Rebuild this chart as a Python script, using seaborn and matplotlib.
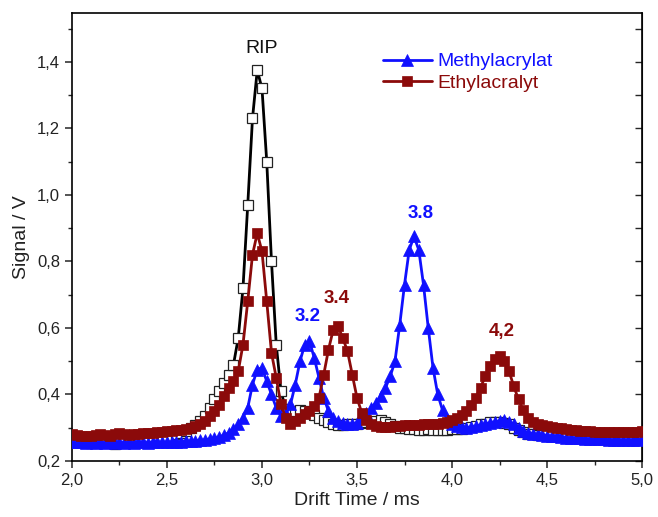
import numpy as np
import pandas as pd
import matplotlib
matplotlib.use('Agg')
import matplotlib.pyplot as plt
import seaborn as sns
from matplotlib.ticker import MultipleLocator, FuncFormatter

# drift time grid, 0.025 ms steps from 2.0 to 5.0 ms
drift_time = np.round(2.0 + 0.025 * np.arange(121), 3)

# RIP (reactant ion peak), black open squares
rip = [
    0.265, 0.260, 0.258, 0.262, 0.255, 0.260, 0.263, 0.258, 0.265, 0.252, 0.260,
    0.262, 0.265, 0.258, 0.266, 0.263, 0.268, 0.262, 0.270, 0.272, 0.273,
    0.276, 0.280, 0.284, 0.290, 0.298, 0.308, 0.320, 0.335, 0.360, 0.385,
    0.410, 0.435, 0.460, 0.490, 0.570, 0.720, 0.970, 1.230, 1.375, 1.320,
    1.100, 0.800, 0.550, 0.410, 0.355, 0.348, 0.350, 0.352, 0.350, 0.345,
    0.338, 0.330, 0.323, 0.316, 0.310, 0.308, 0.308, 0.310, 0.310, 0.312,
    0.315, 0.316, 0.318, 0.320, 0.322, 0.318, 0.312, 0.305, 0.300, 0.298,
    0.296, 0.295, 0.294, 0.293, 0.295, 0.293, 0.292, 0.293, 0.294, 0.295,
    0.296, 0.297, 0.300, 0.302, 0.305, 0.310, 0.312, 0.316, 0.318, 0.318,
    0.315, 0.310, 0.300, 0.292, 0.286, 0.282, 0.280, 0.278, 0.278, 0.277,
    0.276, 0.275, 0.274, 0.273, 0.272, 0.272, 0.271, 0.271, 0.270, 0.270,
    0.270, 0.269, 0.270, 0.268, 0.268, 0.267, 0.266, 0.267, 0.266, 0.268,
]

methylacrylat = [
    0.258, 0.256, 0.257, 0.255, 0.256, 0.254, 0.256, 0.255, 0.257, 0.255, 0.256,
    0.255, 0.256, 0.255, 0.257, 0.256, 0.255, 0.256, 0.257, 0.256, 0.257,
    0.257, 0.258, 0.258, 0.259, 0.260, 0.261, 0.262, 0.264, 0.266, 0.268,
    0.272, 0.278, 0.285, 0.295, 0.310, 0.330, 0.360, 0.430, 0.475, 0.480,
    0.440, 0.400, 0.360, 0.335, 0.340, 0.370, 0.430, 0.500, 0.550, 0.560,
    0.510, 0.450, 0.390, 0.350, 0.330, 0.320, 0.315, 0.312, 0.312, 0.315,
    0.330, 0.345, 0.360, 0.375, 0.395, 0.420, 0.455, 0.500, 0.610, 0.730,
    0.835, 0.875, 0.835, 0.730, 0.600, 0.480, 0.400, 0.353, 0.325, 0.312,
    0.305, 0.302, 0.300, 0.302, 0.305, 0.308, 0.310, 0.315, 0.318, 0.320,
    0.322, 0.318, 0.310, 0.300, 0.290, 0.285, 0.282, 0.280, 0.278, 0.276,
    0.275, 0.274, 0.272, 0.270, 0.270, 0.268, 0.268, 0.267, 0.266, 0.266,
    0.265, 0.265, 0.264, 0.263, 0.263, 0.262, 0.263, 0.262, 0.264, 0.265,
]

ethylacralyt = [
    0.280, 0.278, 0.275, 0.276, 0.274, 0.277, 0.280, 0.278, 0.276, 0.280, 0.283,
    0.280, 0.278, 0.280, 0.282, 0.283, 0.284, 0.285, 0.286, 0.288, 0.290,
    0.290, 0.292, 0.294, 0.297, 0.300, 0.305, 0.312, 0.320, 0.335, 0.350,
    0.368, 0.395, 0.420, 0.440, 0.470, 0.550, 0.680, 0.820, 0.885, 0.830,
    0.680, 0.525, 0.450, 0.370, 0.330, 0.312, 0.320, 0.330, 0.340, 0.350,
    0.365, 0.390, 0.460, 0.535, 0.595, 0.605, 0.570, 0.530, 0.460, 0.390,
    0.345, 0.322, 0.312, 0.305, 0.303, 0.302, 0.303, 0.305, 0.306, 0.307,
    0.308, 0.308, 0.309, 0.310, 0.310, 0.311, 0.312, 0.314, 0.318, 0.322,
    0.328, 0.338, 0.350, 0.368, 0.390, 0.420, 0.455, 0.485, 0.508, 0.516,
    0.500, 0.470, 0.425, 0.385, 0.352, 0.330, 0.318, 0.312, 0.308, 0.305,
    0.302, 0.300, 0.298, 0.296, 0.294, 0.292, 0.290, 0.290, 0.289, 0.288,
    0.288, 0.287, 0.288, 0.286, 0.287, 0.288, 0.286, 0.287, 0.288, 0.290,
]

blue = '#1010ff'
darkred = '#8b0a0a'

sns.set_style('ticks')
plt.rcParams['font.family'] = ['Liberation Sans', 'DejaVu Sans']

fig = plt.figure(figsize=(6.58, 5.17), dpi=100)
ax = fig.add_axes([0.1094, 0.1083, 0.8663, 0.8666])

sns.lineplot(x=drift_time, y=rip, ax=ax, color='black', lw=2.0,
             marker='s', markersize=6.5, markerfacecolor='white',
             markeredgecolor='#222222', markeredgewidth=0.9, zorder=2)
sns.lineplot(x=drift_time, y=methylacrylat, ax=ax, color=blue, lw=2.0,
             marker='^', markersize=8, markerfacecolor=blue,
             markeredgecolor=blue, markeredgewidth=0.5, label='Methylacrylat', zorder=3)
sns.lineplot(x=drift_time, y=ethylacralyt, ax=ax, color=darkred, lw=2.0,
             marker='s', markersize=7, markerfacecolor=darkred,
             markeredgecolor=darkred, markeredgewidth=0.5, label='Ethylacralyt', zorder=4)

ax.set_xlim(2.0, 5.0)
ax.set_ylim(0.2, 1.547)
ax.xaxis.set_major_locator(MultipleLocator(0.5))
ax.xaxis.set_minor_locator(MultipleLocator(0.25))
ax.yaxis.set_major_locator(MultipleLocator(0.2))
ax.yaxis.set_minor_locator(MultipleLocator(0.1))
comma = FuncFormatter(lambda v, p: f'{v:.1f}'.replace('.', ','))
ax.xaxis.set_major_formatter(comma)
ax.yaxis.set_major_formatter(comma)
ax.tick_params(which='major', direction='out', length=5, width=1.1,
               labelsize=12, labelcolor='#222222')
ax.tick_params(which='minor', direction='out', length=3, width=1.0)

for side in ['left', 'right', 'top', 'bottom']:
    ax.spines[side].set_visible(True)
    ax.spines[side].set_linewidth(1.2)
    ax.spines[side].set_color('black')

# mirrored inward ticks on the right side
right = ax.secondary_yaxis('right')
right.yaxis.set_major_locator(MultipleLocator(0.1))
right.tick_params(direction='in', length=5, width=1.0, labelright=False)

ax.set_xlabel('Drift Time / ms', fontsize=14, labelpad=3, color='#222222')
ax.set_ylabel('Signal / V', fontsize=14, labelpad=5, color='#222222')

ax.text(3.0, 1.44, 'RIP', ha='center', va='center', fontsize=14, color='#111111')
peaks = [('3.2', 3.24, 0.635, blue), ('3.4', 3.395, 0.69, darkred),
         ('3.8', 3.837, 0.945, blue), ('4,2', 4.263, 0.59, darkred)]
for txt, px, py, c in peaks:
    ax.text(px, py, txt, ha='center', va='center', fontsize=13.5,
            fontweight='bold', color=c)

leg = ax.legend(loc='upper left', bbox_to_anchor=(0.515, 0.95), frameon=False,
                fontsize=14, handlelength=2.5, handletextpad=0.3,
                labelspacing=0.2, labelcolor='linecolor', numpoints=1)

fig.savefig('out.png', dpi=100)
